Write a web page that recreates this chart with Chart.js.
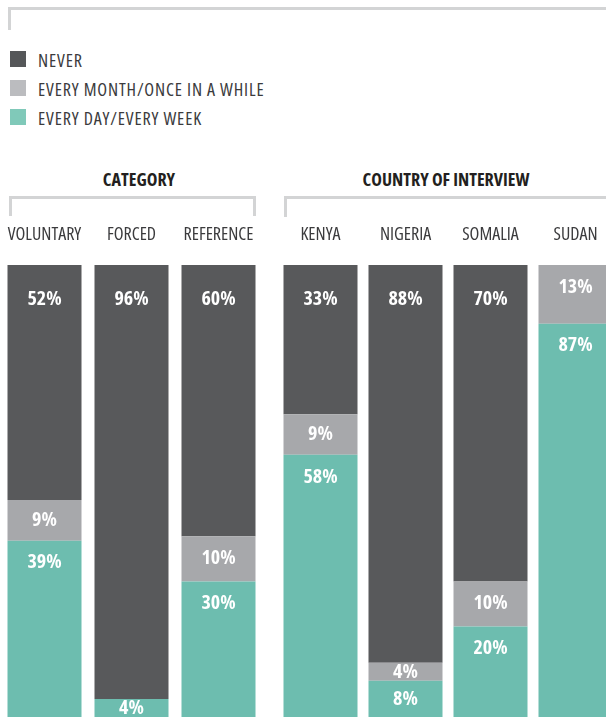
<!DOCTYPE html>
<html>
<head>
<meta charset="utf-8">
<script src="https://cdn.jsdelivr.net/npm/chart.js@4.4.1/dist/chart.umd.min.js"></script>
<style>
  html, body { margin: 0; padding: 0; background: #fff; overflow: hidden; }
  body { width: 606px; height: 717px; position: relative; font-family: "Open Sans", sans-serif; font-stretch: 75%; color: #3b3b3d; }
  .bracket { position: absolute; box-sizing: border-box; border: 0 solid #d3d4d5; }
  #brTop { left: 8px; top: 7px; width: 640px; height: 23px; border-top-width: 3px; border-left-width: 3px; }
  #brCat { left: 9px; top: 196px; width: 247px; height: 20px; border-top-width: 3px; border-left-width: 3px; border-right-width: 3px; }
  #brCty { left: 284px; top: 196px; width: 360px; height: 21px; border-top-width: 3px; border-left-width: 3px; }
  #legend { position: absolute; left: 10px; top: 51px; }
  .item { height: 29px; display: flex; align-items: flex-start; }
  .sw { width: 16px; height: 16px; margin-right: 12px; }
  .item span { font-size: 18px; line-height: 18px; letter-spacing: 0.85px; }
  .hdr { position: absolute; top: 168px; font-weight: bold; font-size: 18px; line-height: 22px; color: #231f20; text-align: center; }
  #hdrCat { left: 89px; width: 100px; }
  #hdrCty { left: 346px; width: 200px; }
  canvas { position: absolute; }
  #chartCat { left: 1px; top: 220px; }
  #chartCty { left: 278px; top: 220px; }
</style>
</head>
<body>
<div class="bracket" id="brTop"></div>
<div id="legend"></div>
<div class="hdr" id="hdrCat">CATEGORY</div>
<div class="hdr" id="hdrCty">COUNTRY OF INTERVIEW</div>
<div class="bracket" id="brCat"></div>
<div class="bracket" id="brCty"></div>
<canvas id="chartCat" width="261" height="497"></canvas>
<canvas id="chartCty" width="340" height="497"></canvas>
<script>
// categories: first three are the category group, rest are countries
const groups = ["VOLUNTARY", "FORCED", "REFERENCE", "KENYA", "NIGERIA", "SOMALIA", "SUDAN"];
const splitAt = 3;

// percentages per bar
const never = [52, 96, 60, 33, 88, 70, 0];
const monthly = [9, 0, 10, 9, 4, 10, 13];
const daily = [39, 4, 30, 58, 8, 20, 87];

const seriesNames = ["NEVER", "EVERY MONTH/ONCE IN A WHILE", "EVERY DAY/EVERY WEEK"];
const barColors = ["#58595b", "#a7a8ab", "#6dbdaf"];
const legendColors = ["#555759", "#bbbcbf", "#80c9b9"];

// legend (top to bottom)
const legendEl = document.getElementById("legend");
seriesNames.forEach((name, i) => {
  const row = document.createElement("div");
  row.className = "item";
  row.innerHTML = `<div class="sw" style="background:${legendColors[i]}"></div><span>${name}</span>`;
  legendEl.appendChild(row);
});

// white % labels inside each segment
const segLabels = {
  id: "segLabels",
  afterDatasetsDraw(chart) {
    const ctx = chart.ctx;
    ctx.save();
    ctx.fillStyle = "#ffffff";
    ctx.font = 'bold condensed 20px "Open Sans"';
    ctx.textAlign = "center";
    ctx.textBaseline = "middle";
    chart.data.datasets.forEach((ds, di) => {
      chart.getDatasetMeta(di).data.forEach((bar, i) => {
        const v = ds.data[i];
        if (!v) return;
        const top = Math.min(bar.y, bar.base);
        const h = Math.abs(bar.base - bar.y);
        ctx.fillText(v + "%", bar.x, top + Math.min(h / 2, ds.labelOffset));
      });
    });
    ctx.restore();
  }
};

function makeChart(id, from, to, barPct) {
  // stack from the bottom: daily, monthly, never
  const sets = [
    { label: seriesNames[2], data: daily.slice(from, to), backgroundColor: barColors[2], labelOffset: 22 },
    { label: seriesNames[1], data: monthly.slice(from, to), backgroundColor: barColors[1], labelOffset: 22 },
    { label: seriesNames[0], data: never.slice(from, to), backgroundColor: barColors[0], labelOffset: 34 }
  ];
  sets.forEach(s => { s.barPercentage = barPct; s.categoryPercentage = 1; s.borderWidth = 0; });
  return new Chart(document.getElementById(id), {
    type: "bar",
    data: { labels: groups.slice(from, to), datasets: sets },
    options: {
      responsive: false,
      animation: false,
      layout: { padding: 0 },
      plugins: { legend: { display: false }, tooltip: { enabled: false } },
      scales: {
        x: {
          stacked: true,
          position: "top",
          grid: { display: false, drawTicks: false },
          border: { display: false },
          ticks: {
            color: "#3b3b3d",
            font: { family: '"Open Sans"', weight: "condensed", size: 18 },
            padding: 19,
            maxRotation: 0,
            autoSkip: false
          },
          afterFit: s => { s.height = 45; s.paddingLeft = 0; s.paddingRight = 0; }
        },
        y: { stacked: true, display: false, min: 0, max: 100 }
      }
    },
    plugins: [segLabels]
  });
}

makeChart("chartCat", 0, splitAt, 74 / 87);
makeChart("chartCty", splitAt, groups.length, 74 / 85);
</script>
</body>
</html>
